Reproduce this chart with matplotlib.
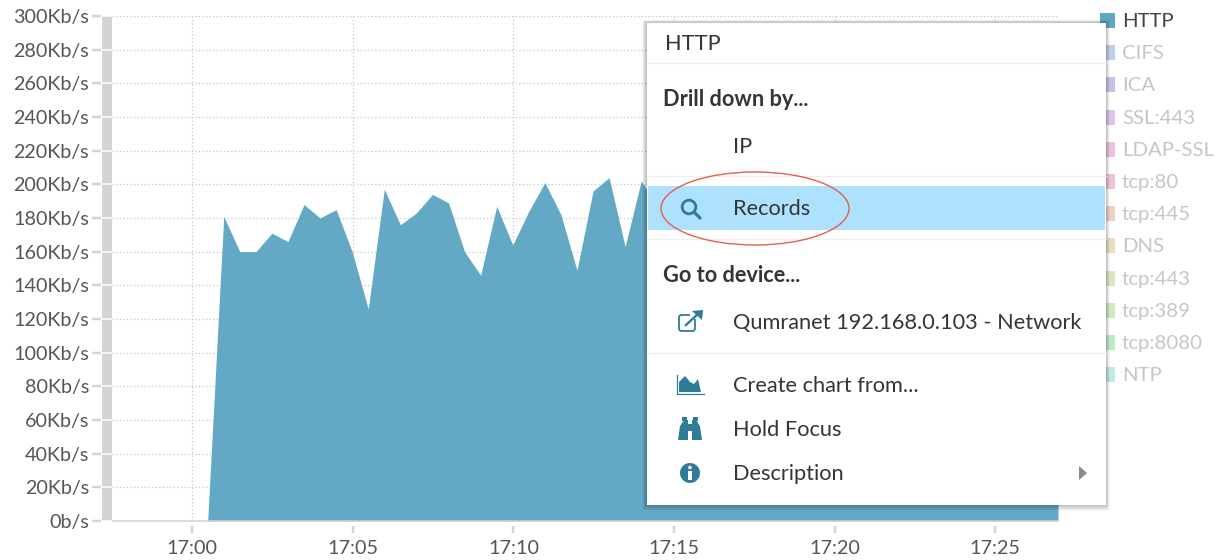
import matplotlib
matplotlib.use("Agg")
import matplotlib.pyplot as plt
from matplotlib.patches import Rectangle, Ellipse, Circle, Polygon, FancyBboxPatch

plt.rcParams['font.family'] = ['Lato', 'DejaVu Sans']

# Data (minutes after 17:00, Kb/s)
minutes = [0.48, 0.98, 1.48, 1.98, 2.48, 2.98, 3.48, 3.98, 4.48, 4.98,
           5.48, 5.98, 6.48, 6.98, 7.48, 7.98, 8.48, 8.98, 9.48, 9.98,
           10.48, 10.98, 11.48, 11.98, 12.48, 12.98, 13.48, 13.98, 14.48, 26.96]
http_kbps = [0, 181, 160, 160, 171, 166, 188, 180, 185, 160,
             126, 197, 176, 183, 194, 189, 160, 146, 187, 164,
             184, 201, 182, 149, 196, 204, 163, 202, 187, 180]

y_ticks = [0, 20, 40, 60, 80, 100, 120, 140, 160, 180, 200, 220, 240, 260, 280, 300]
y_labels = ['0b/s', '20Kb/s', '40Kb/s', '60Kb/s', '80Kb/s', '100Kb/s', '120Kb/s', '140Kb/s',
            '160Kb/s', '180Kb/s', '200Kb/s', '220Kb/s', '240Kb/s', '260Kb/s', '280Kb/s', '300Kb/s']
x_ticks = [0, 5, 10, 15, 20, 25]
x_labels = ['17:00', '17:05', '17:10', '17:15', '17:20', '17:25']

legend_names = ['HTTP', 'CIFS', 'ICA', 'SSL:443', 'LDAP-SSL', 'tcp:80', 'tcp:445', 'DNS',
                'tcp:443', 'tcp:389', 'tcp:8080', 'NTP']
legend_colors = ['#5fa7c3', '#c0cee8', '#c8c2e6', '#dcc4e8', '#eac2dc', '#eec4cc', '#ecd0c4',
                 '#e8e0bc', '#d9e8c0', '#cdeac0', '#bfe8ca', '#c0eae4']

W, H = 1227, 560
PX = 0.72  # one pixel in points at dpi 100
GRAY = '#d4d4d4'
TEAL = '#2f7c9a'
MENU_TEXT = '#353535'

fig = plt.figure(figsize=(W / 100, H / 100), dpi=100)

# Chart area
left, right, top, bottom = 112, 1058, 16, 521
ax = fig.add_axes([left / W, 1 - bottom / H, (right - left) / W, (bottom - top) / H])
ax.set_xlim(-2.5, 26.96)
ax.set_ylim(0, 300)

ax.grid(True, color='#c4c4c4', linestyle=(0, (1, 2)), linewidth=1.2 * PX)
ax.set_axisbelow(True)
ax.fill_between(minutes, http_kbps, 0, color='#5ba5c2', alpha=0.95, linewidth=0, zorder=2)

ax.set_xticks(x_ticks)
ax.set_yticks(y_ticks)
ax.tick_params(left=False, bottom=False, labelleft=False, labelbottom=False)

for side in ['top', 'right']:
    ax.spines[side].set_visible(False)
ax.spines['bottom'].set_color(GRAY)
ax.spines['bottom'].set_linewidth(1.5 * PX)
# thick gray band next to the value axis
ax.spines['left'].set_position(('outward', 5 * PX))
ax.spines['left'].set_linewidth(10 * PX)
ax.spines['left'].set_color(GRAY)
ax.spines['left'].set_capstyle('butt')

# ticks sit apart from the axis, so they go on secondary axes
sec_y = ax.secondary_yaxis(-11 / (right - left))
sec_y.set_yticks(y_ticks, y_labels)
sec_y.spines['left'].set_visible(False)
sec_y.tick_params(axis='y', length=9 * PX, width=2.5 * PX, color=GRAY, pad=3 * PX,
                  labelsize=14.2, labelcolor='#555555')

sec_x = ax.secondary_xaxis(-5 / (bottom - top))
sec_x.set_xticks(x_ticks, x_labels)
sec_x.spines['bottom'].set_visible(False)
sec_x.tick_params(axis='x', length=7 * PX, width=2.5 * PX, color=GRAY, pad=7 * PX,
                  labelsize=14.2, labelcolor='#555555')

# white cuts through the band at each tick
ax.hlines(y_ticks, -10 / (right - left), 0, colors='white', linewidth=1.5 * PX,
          transform=ax.get_yaxis_transform(), clip_on=False, zorder=5)

# Overlay in picture pixels for legend and menu
ov = fig.add_axes([0, 0, 1, 1], facecolor='none')
ov.set_xlim(0, W)
ov.set_ylim(H, 0)
ov.axis('off')

for i, (name, color) in enumerate(zip(legend_names, legend_colors)):
    yc = 20.5 + i * 32.2
    ov.add_patch(Rectangle((1100, yc - 7.5), 15, 15, facecolor=color, edgecolor='none', zorder=1))
    ov.text(1122, yc + 1, name, fontsize=14.7, va='center', ha='left',
            color='#444444' if i == 0 else '#c6c6c6', zorder=1)

# Menu with soft shadow
mx0, mx1, my0, my1 = 646.5, 1106, 22.5, 505
for i in range(1, 6):
    ov.add_patch(FancyBboxPatch((mx0 - i * 0.8, my0 - i * 0.5), mx1 - mx0 + i * 1.5, my1 - my0 + i * 1.6,
                                boxstyle='round,pad=0,rounding_size=2', facecolor='black',
                                edgecolor='none', alpha=0.05, zorder=3))
ov.add_patch(Rectangle((mx0, my0), mx1 - mx0, my1 - my0, facecolor='white', edgecolor='none', zorder=4))
for y in [63, 176, 239, 353]:
    ov.plot([mx0, mx1], [y, y], color='#efefef', linewidth=1.3 * PX, zorder=5)
ov.add_patch(Rectangle((648, 186), 457, 44, facecolor='#aee1fd', edgecolor='none', zorder=5))

menu_items = [('HTTP', 665, 43, 'normal'), ('Drill down by...', 663, 99, 'bold'), ('IP', 733, 146, 'normal'),
              ('Records', 733, 208, 'normal'), ('Go to device...', 663, 275, 'bold'),
              ('Qumranet 192.168.0.103 - Network', 733, 322, 'normal'), ('Create chart from...', 733, 385, 'normal'),
              ('Hold Focus', 733, 429, 'normal'), ('Description', 733, 473, 'normal')]
for label, x, y, weight in menu_items:
    ov.text(x, y + 1, label, fontsize=15.7, va='center', ha='left', fontweight=weight, color=MENU_TEXT, zorder=6)

# Red ellipse round Records
ov.add_patch(Ellipse((755, 208.5), 188, 73, facecolor='none', edgecolor='#e4604e', linewidth=1.4 * PX, zorder=7))

# Icons
ov.add_patch(Circle((689, 207), 6.8, facecolor='none', edgecolor=TEAL, linewidth=2.8 * PX, zorder=7))
ov.plot([694, 700], [212, 218], color=TEAL, linewidth=3.2 * PX, solid_capstyle='round', zorder=7)

ov.add_patch(FancyBboxPatch((679, 315), 16, 16, boxstyle='round,pad=0,rounding_size=2.5', facecolor='none',
                            edgecolor=TEAL, linewidth=1.8 * PX, zorder=7))
ov.add_patch(Rectangle((690, 309), 13, 10, facecolor='white', edgecolor='none', zorder=7))
ov.plot([686, 699], [325, 313], color=TEAL, linewidth=2.4 * PX, zorder=8)
ov.add_patch(Polygon([[692, 311], [703, 310], [702, 320]], closed=True, facecolor=TEAL, edgecolor='none', zorder=8))

ov.add_patch(Polygon([[679, 392], [679, 382], [685, 376], [690, 382], [694, 384], [698, 379], [701, 392]],
                     closed=True, facecolor=TEAL, edgecolor='none', zorder=7))
ov.plot([677, 677, 704], [375, 394, 394], color=TEAL, linewidth=1.2 * PX, zorder=7)

ov.add_patch(Polygon([[678, 440], [680, 426], [684, 420], [688, 420], [688, 440]],
                     closed=True, facecolor=TEAL, edgecolor='none', zorder=7))
ov.add_patch(Polygon([[692, 440], [692, 420], [696, 420], [700, 426], [702, 440]],
                     closed=True, facecolor=TEAL, edgecolor='none', zorder=7))
ov.add_patch(Rectangle((682, 417), 5, 3.5, facecolor=TEAL, edgecolor='none', zorder=7))
ov.add_patch(Rectangle((693, 417), 5, 3.5, facecolor=TEAL, edgecolor='none', zorder=7))
ov.add_patch(Rectangle((688, 424), 4, 7, facecolor=TEAL, edgecolor='none', zorder=7))

ov.add_patch(Circle((690, 473), 10, facecolor=TEAL, edgecolor='none', zorder=7))
ov.add_patch(Circle((690, 467.5), 1.8, facecolor='white', edgecolor='none', zorder=8))
ov.add_patch(Rectangle((688.3, 471), 3.6, 8.5, facecolor='white', edgecolor='none', zorder=8))

ov.add_patch(Polygon([[1079, 466], [1087, 473], [1079, 480]], closed=True, facecolor='#8a8a8a', edgecolor='none', zorder=7))

fig.savefig('out.png', dpi=100)
